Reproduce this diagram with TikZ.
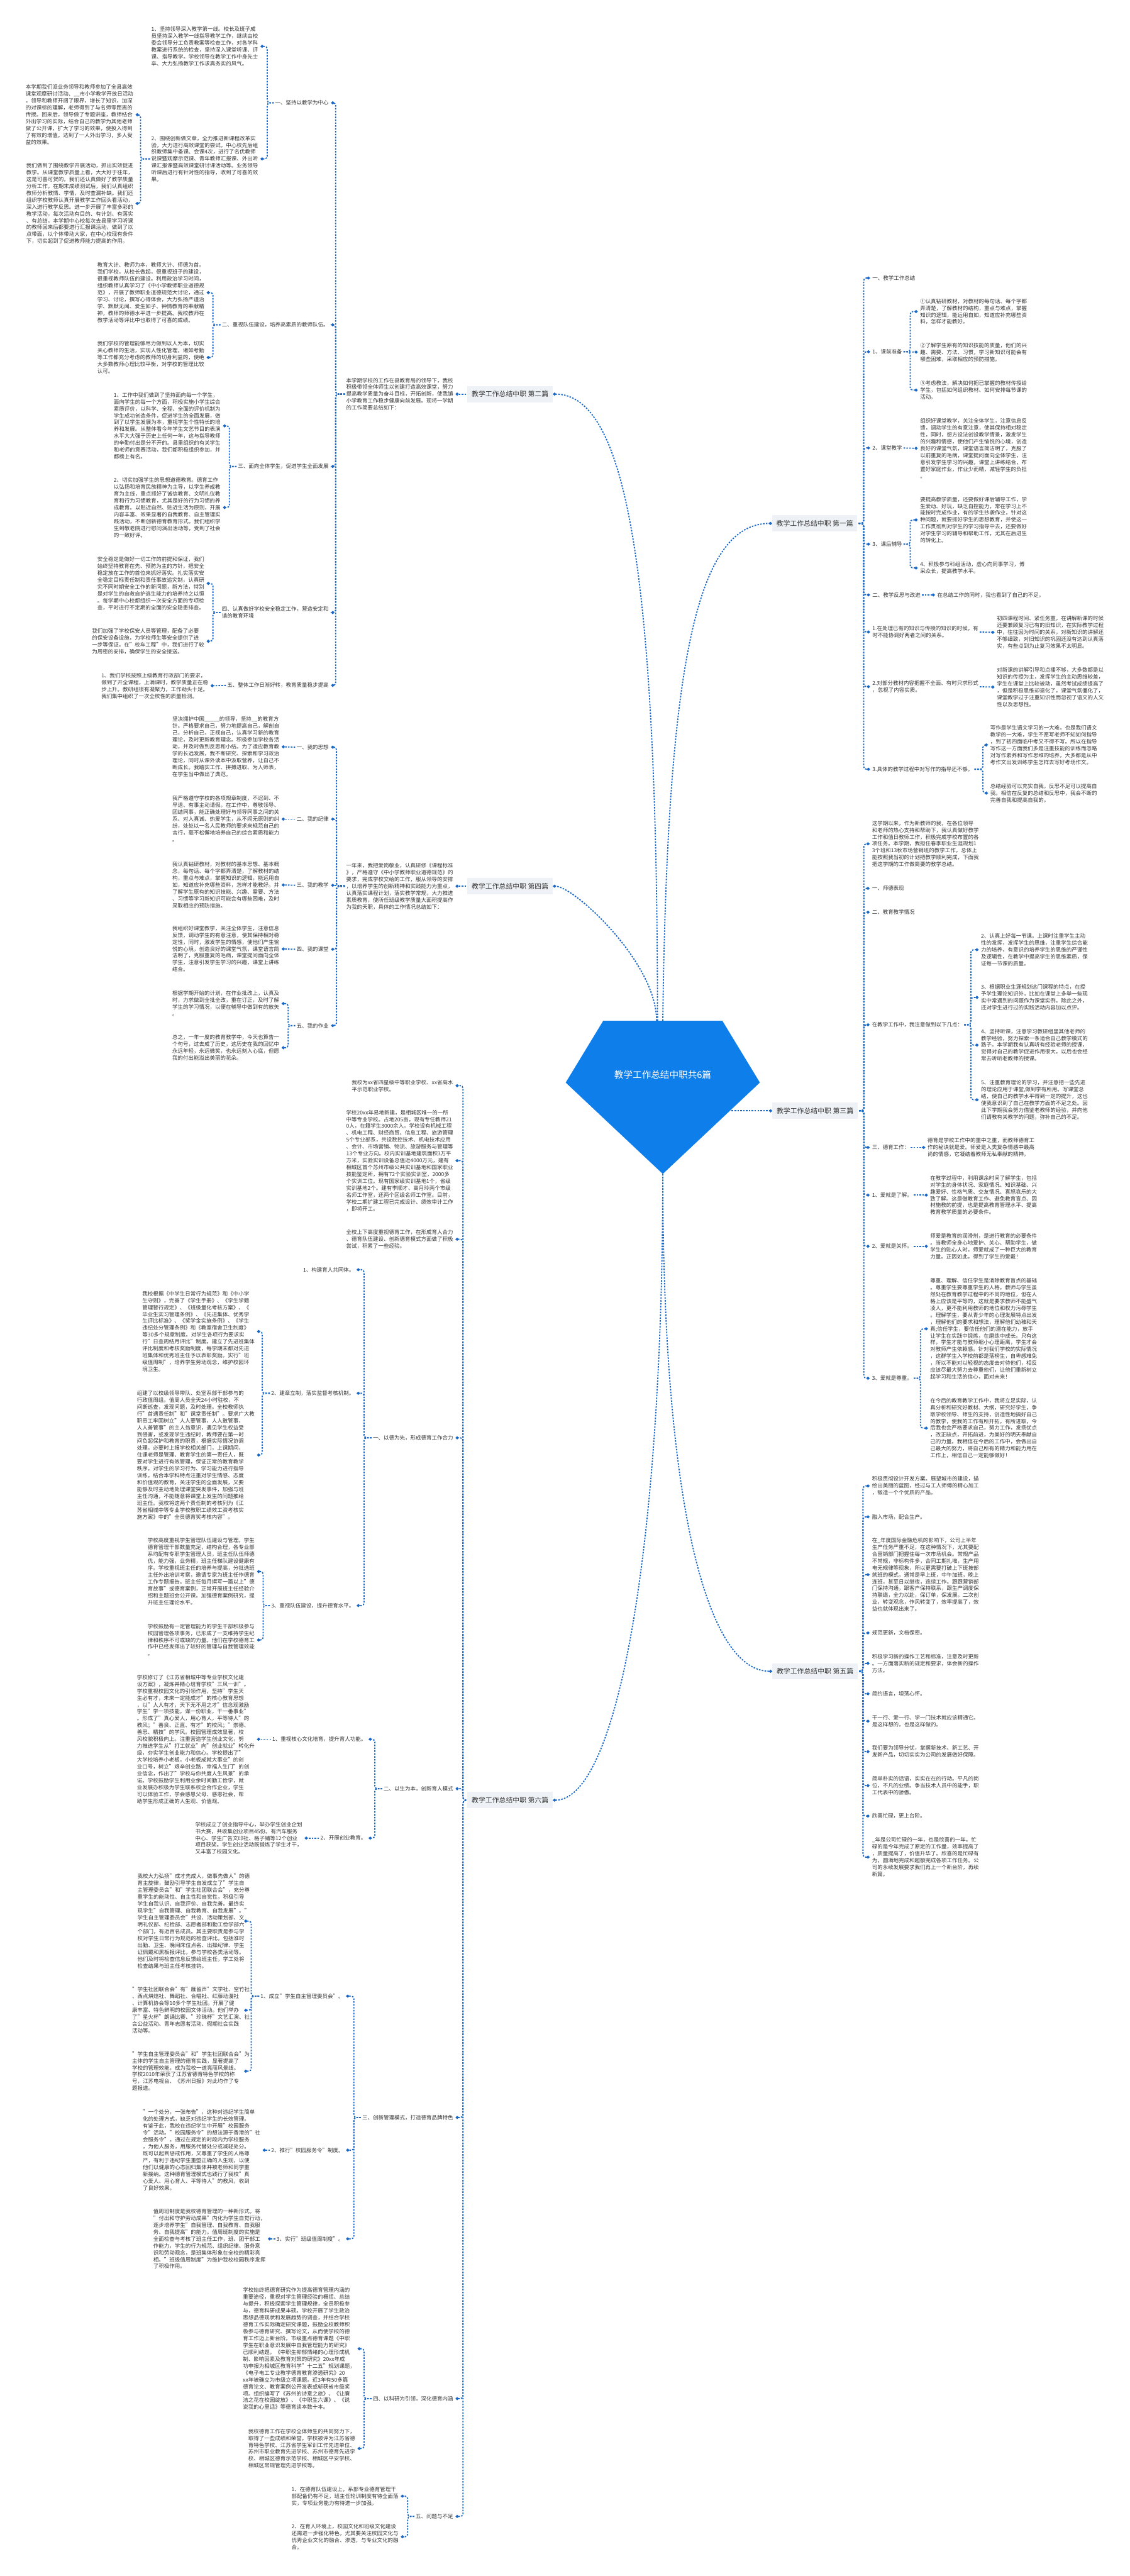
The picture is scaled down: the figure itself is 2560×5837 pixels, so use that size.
\documentclass[tikz,border=0pt]{standalone}
\usepackage{fontspec}
\setmainfont{Noto Sans CJK SC}
\usetikzlibrary{arrows.meta}
\definecolor{mapblue}{HTML}{0E7EEA}
\definecolor{linkblue}{HTML}{1968C8}
\definecolor{topicgray}{HTML}{EEF1F5}
\definecolor{textgray}{HTML}{333333}

\begin{document}
\begin{tikzpicture}[
  x=1pt,
  y=-1pt,
  every node/.style={text=textgray},
  topic/.style={fill=topicgray, inner sep=0pt, minimum width=193pt,
                minimum height=37pt, font=\fontsize{15.5}{18}\selectfont},
  txt/.style={inner sep=0pt, align=left, font=\fontsize{12.1}{15.6}\selectfont},
  rootnode/.style={text=white, inner sep=0pt, font=\fontsize{20.8}{24}\selectfont},
  rootlink/.style={linkblue, line width=2.6pt, dash pattern=on 3.5pt off 3pt,
                   -{Diamond[length=8pt,width=7.5pt]}},
  link/.style={rootlink, rounded corners=6pt, shorten <=3pt, shorten >=5pt}
]
  % ---- page ----
  \useasboundingbox (0,0) rectangle (2560,5837);
  \fill[white] (0,0) rectangle (2560,5837);

  % ---- centre gem ----
  \fill[mapblue] (1367,2313) -- (1637,2313) -- (1722,2453) -- (1502,2660)
    -- (1282,2453) -- cycle;
  \node[rootnode] (root) at (1502,2435) {教学工作总结中职共6篇};
  \coordinate (rootN2) at (1490,2313);
  \coordinate (rootN1) at (1502,2313);
  \coordinate (rootN4) at (1488,2313);
  \coordinate (rootE3) at (1658,2517);
  \coordinate (rootS) at (1502,2660);

  % ---- topics ----
  \node[topic] (p2) at (1156,893)    {教学工作总结中职 第二篇};
  \node[topic] (p1) at (1846.5,1186) {教学工作总结中职 第一篇};
  \node[topic] (p4) at (1156,2008)   {教学工作总结中职 第四篇};
  \node[topic] (p3) at (1847,2517)   {教学工作总结中职 第三篇};
  \node[topic] (p5) at (1847,3787)   {教学工作总结中职 第五篇};
  \node[topic] (p6) at (1156,4079)   {教学工作总结中职 第六篇};

  % ---- 第二篇 ----
  \node[txt, anchor=east] (p2s) at (1027,893) {本学期学校的工作在县教育局的领导下，我校\\
积极带领全体师生以创建打造高效课堂，努力\\
提高教学质量为奋斗目标，开拓创新，使我镇\\
小学教育工作稳步健康向前发展。现将一学期\\
的工作简要总结如下：};
  \node[txt, anchor=east] (p2a) at (745,233)  {一、坚持以教学为中心};
  \node[txt, anchor=east] (p2b) at (745,736)  {二、重视队伍建设，培养高素质的教师队伍。};
  \node[txt, anchor=east] (p2c) at (745,1057) {三、面向全体学生，促进学生全面发展};
  \node[txt, anchor=east] (p2d) at (745,1388) {四、认真做好学校安全稳定工作，营造安定和\\
谐的教育环境};
  \node[txt, anchor=east] (p2e) at (745,1553) {五、整体工作日渐好转，教育质量稳步提高};
  \node[txt, anchor=east] (p2a1) at (585,105) {1、坚持领导深入教学第一线。校长及班子成\\
员坚持深入教学一线指导教学工作，继续由校\\
委会领导分工负责教案等检查工作，对各学科\\
教案进行系统的检查，坚持深入课堂听课、评\\
课、指导教学。学校领导在教学工作中身先士\\
卒、大力弘扬教学工作求真务实的风气。};
  \node[txt, anchor=east] (p2a2) at (585,360) {2、围绕创新做文章，全力推进新课程改革实\\
验，大力进行高效课堂的尝试。中心校先后组\\
织教师集中备课、会课4次，进行了名优教师\\
说课暨观摩示范课、青年教师汇报课、外出听\\
课汇报课暨高效课堂研讨课活动等。业务领导\\
听课后进行有针对性的指导，收到了可喜的效\\
果。};
  \node[txt, anchor=east] (p2a2x) at (302,260) {本学期我们派业务领导和教师参加了全县高效\\
课堂观摩研讨活动、\_\_市小学教学开放日活动\\
，领导和教师开阔了眼界，增长了知识，加深\\
的对课标的理解，老师得到了与名师零距离的\\
传授。回来后，领导做了专题讲座，教师结合\\
外出学习的实际，结合自己的教学为其他老师\\
做了公开课，扩大了学习的效果，使投入得到\\
了有效的增值。达到了一人外出学习，多人受\\
益的效果。};
  \node[txt, anchor=east] (p2a2y) at (302,461) {我们做到了围绕教学开展活动，抓出实效促进\\
教学。从课堂教学质量上看，大大好于往年，\\
这是可喜可贺的。我们还认真做好了教学质量\\
分析工作，在期末成绩测试后，我们认真组织\\
教师分析教情、学情，及时查漏补缺。我们还\\
组织学校教师认真开展教学工作回头看活动，\\
深入进行教学反思。进一步开展了丰富多彩的\\
教学活动，每次活动有目的、有计划、有落实\\
、有总结，本学期中心校每次去县里学习听课\\
的教师回来后都要进行汇报课活动，做到了以\\
点带面，以个体带动大家，在中心校现有条件\\
下，切实起到了促进教师能力提高的作用。};
  \node[txt, anchor=east] (p2b1) at (463,663) {教育大计、教师为本，教师大计、师德为首。\\
我们学校，从校长做起，很重视班子的建设，\\
很重视教师队伍的建设。利用政治学习时间，\\
组织教师认真学习了《中小学教师职业道德规\\
范》，开展了教师职业道德规范大讨论，通过\\
学习、讨论，撰写心得体会，大力弘扬严谨治\\
学、默默无闻、爱生如子、钟情教育的奉献精\\
神，教师的师德水平进一步提高。我校教师在\\
教学活动等评比中也取得了可喜的成绩。};
  \node[txt, anchor=east] (p2b2) at (463,810) {我们学校的管理能够尽力做到以人为本，切实\\
关心教师的生活，实现人性化管理，诸如考勤\\
等工作都充分考虑的教师的切身利益的，使绝\\
大多数教师心理比较平衡，对学校的管理比较\\
认可。};
  \node[txt, anchor=east] (p2c1) at (500,965) {1、工作中我们做到了坚持面向每一个学生，\\
面向学生的每一个方面，积极实施小学生综合\\
素质评价，以科学、全程、全面的评价机制为\\
学生成功创造条件，促进学生的全面发展，做\\
到了以学生发展为本，重视学生个性特长的培\\
养和发展。从整体看今年学生文艺节目的表演\\
水平大大强于历史上任何一年，这与指导教师\\
的辛勤付出是分不开的。县里组织的有关学生\\
和老师的竞赛活动，我们都积极组织参加，并\\
都榜上有名。};
  \node[txt, anchor=east] (p2c2) at (500,1150) {2、切实加强学生的思想道德教育。德育工作\\
以弘扬和培育民族精神为主导，以学生养成教\\
育为主线，重点抓好了诚信教育、文明礼仪教\\
育和行为习惯教育，尤其是好的行为习惯的养\\
成教育。以贴近自然、贴近生活为原则，开展\\
内容丰富、效果显著的自我教育、自主管理实\\
践活动，不断创新德育教育形式。我们组织学\\
生到敬老院进行慰问演出活动等，受到了社会\\
的一致好评。};
  \node[txt, anchor=east] (p2d1) at (463,1322) {安全稳定是做好一切工作的前提和保证，我们\\
始终坚持教育在先、预防为主的方针，把安全\\
稳定放在工作的首位来抓好落实。扎实落实安\\
全稳定目标责任制和责任事故追究制，认真研\\
究不同时期安全工作的新问题，新方法，特别\\
是对学生的自救自护逃生能力的培养持之以恒\\
。每学期中心校都组织一次安全方面的专项检\\
查，平时进行不定期的全面的安全隐患排查。};
  \node[txt, anchor=east] (p2d2) at (463,1453) {我们加强了学校保安人员等管理，配备了必要\\
的保安设备设施，为学校师生等安全提供了进\\
一步等保证。在"校车工程"中，我们进行了较\\
为周密的安排，确保学生的安全接送。};
  \node[txt, anchor=east] (p2e1) at (472,1554) {1、我们学校按照上级教育行政部门的要求，\\
做到了开全课程，上满课时，教学质量正在稳\\
步上升。教研组很有凝聚力，工作劲头十足。\\
我们集中组织了一次全校性的质量检测。};

  % ---- 第四篇 ----
  \node[txt, anchor=east] (p4s) at (1027,2008) {一年来，我把爱岗敬业，认真研修《课程标准\\
》，严格遵守《中小学教师职业道德规范》的\\
要求，完成学校交给的工作，服从领导的安排\\
，以培养学生的创新精神和实践能力为重点，\\
认真落实课程计划，落实教学常规，大力推进\\
素质教育，使所任班级教学质量大面积提高作\\
为我的天职，具体的工作情况总结如下：};
  \node[txt, anchor=east] (p4a) at (745,1693) {一、我的思想};
  \node[txt, anchor=east] (p4b) at (745,1856) {二、我的纪律};
  \node[txt, anchor=east] (p4c) at (745,2006) {三、我的教学};
  \node[txt, anchor=east] (p4d) at (745,2151) {四、我的课堂};
  \node[txt, anchor=east] (p4e) at (745,2324) {五、我的作业};
  \node[txt, anchor=east] (p4a1) at (633,1692) {坚决拥护中国\_\_\_\_\_的领导，坚持\_\_的教育方\\
针。严格要求自己，努力地提高自己，解剖自\\
己，分析自己，正视自己，认真学习新的教育\\
理论，及时更新教育理念。积极参加学校各活\\
动，并及时做到反思和小结。为了适应教育教\\
学的长远发展，我不断研究、探索和学习政治\\
理论，同时从课外读本中汲取营养，让自己不\\
断成长。我踏实工作、拼搏进取、为人师表，\\
在学生当中做出了典范。};
  \node[txt, anchor=east] (p4b1) at (633,1856) {我严格遵守学校的各项规章制度，不迟到、不\\
早退、有事主动请假。在工作中，尊敬领导、\\
团结同事，能正确处理好与领导同事之间的关\\
系、对人真诚、热爱学生，从不闹无原则的纠\\
纷，处处以一名人民教师的要求来规范自己的\\
言行，毫不松懈地培养自己的综合素质和能力\\
。};
  \node[txt, anchor=east] (p4c1) at (633,2005) {我认真钻研教材，对教材的基本思想、基本概\\
念，每句话、每个字都弄清楚，了解教材的结\\
构，重点与难点，掌握知识的逻辑，能运用自\\
如，知道应补充哪些资料，怎样才能教好。并\\
了解学生原有的知识技能、兴趣、需要、方法\\
、习惯等学习新知识可能会有哪些困难，及时\\
采取相应的预防措施。};
  \node[txt, anchor=east] (p4d1) at (633,2150) {我组织好课堂教学，关注全体学生，注意信息\\
反馈，调动学生的有意注意，使其保持相对稳\\
定性，同时，激发学生的情感，使他们产生愉\\
悦的心境，创造良好的课堂气氛，课堂语言简\\
洁明了，克服重复的毛病，课堂提问面向全体\\
学生，注意引发学生学习的兴趣，课堂上讲练\\
结合。};
  \node[txt, anchor=east] (p4e1) at (633,2274) {根据学期开始的计划，在作业批改上，认真及\\
时，力求做到全批全改，重在订正，及时了解\\
学生的学习情况，以便在辅导中做到有的放矢\\
。};
  \node[txt, anchor=east] (p4e2) at (633,2374) {总之，一年一度的教育教学中，今天也算告一\\
个句号，过去成了历史，这历史在我的回忆中\\
永远年轻，永远微笑，也永远刻入心底，但愿\\
我的付出能溢出美丽的花朵。};

  % ---- 第一篇 ----
  \node[txt, anchor=west] (p1a) at (1977,630)  {一、教学工作总结};
  \node[txt, anchor=west] (p1b) at (1977,797)  {1、课前准备};
  \node[txt, anchor=west] (p1c) at (1977,1015) {2、课堂教学};
  \node[txt, anchor=west] (p1d) at (1977,1233) {3、课后辅导};
  \node[txt, anchor=west] (p1e) at (1977,1348) {二、教学反思与改进};
  \node[txt, anchor=west] (p1f) at (1977,1432) {1.在处理已有的知识与传授的知识的时候，有\\
时不能协调好两者之间的关系。};
  \node[txt, anchor=west] (p1g) at (1977,1556) {2.对部分教材内容把握不全面、有时只求形式\\
，忽视了内容实质。};
  \node[txt, anchor=west] (p1h) at (1977,1743) {3.具体的教学过程中对写作的指导还不够。};
  \node[txt, anchor=west] (p1b1) at (2085,706) {①认真钻研教材，对教材的每句话、每个字都\\
弄清楚，了解教材的结构，重点与难点，掌握\\
知识的逻辑，能运用自如，知道应补充哪些资\\
料，怎样才能教好。};
  \node[txt, anchor=west] (p1b2) at (2085,798) {②了解学生原有的知识技能的质量，他们的兴\\
趣、需要、方法、习惯，学习新知识可能会有\\
哪些困难，采取相应的预防措施。};
  \node[txt, anchor=west] (p1b3) at (2085,884) {③考虑教法，解决如何把已掌握的教材传授给\\
学生，包括如何组织教材、如何安排每节课的\\
活动。};
  \node[txt, anchor=west] (p1c1) at (2085,1016) {组织好课堂教学，关注全体学生，注意信息反\\
馈，调动学生的有意注意，使其保持相对稳定\\
性，同时，想方设法创设教学情景，激发学生\\
的兴趣和情感，使他们产生愉悦的心境，创造\\
良好的课堂气氛，课堂语言简洁明了，克服了\\
以前重复的毛病，课堂提问面向全体学生，注\\
意引发学生学习的兴趣，课堂上讲练结合，布\\
置好家庭作业，作业少而精，减轻学生的负担\\
。};
  \node[txt, anchor=west] (p1d1) at (2085,1178) {要提高教学质量，还要做好课后辅导工作，学\\
生爱动、好玩，缺乏自控能力，常在学习上不\\
能按时完成作业，有的学生抄袭作业，针对这\\
种问题，就要抓好学生的思想教育，并使这一\\
工作贯彻到对学生的学习指导中去，还要做好\\
对学生学习的辅导和帮助工作，尤其在后进生\\
的转化上。};
  \node[txt, anchor=west] (p1d2) at (2085,1287) {4、积极参与科组活动，虚心向同事学习，博\\
采众长，提高教学水平。};
  \node[txt, anchor=west] (p1e1) at (2124,1348) {在总结工作的同时，我也看到了自己的不足。};
  \node[txt, anchor=west] (p1f1) at (2259,1433) {初四课程时间、紧任务重，在讲解新课的时候\\
还要兼顾复习已有的旧知识，在实际教学过程\\
中，往往因为时间的关系，对新知识的讲解还\\
不够细致，对旧知识的巩固还没有达到认真落\\
实，有些点到为止复习效果不太明显。};
  \node[txt, anchor=west] (p1g1) at (2259,1557) {对新课的讲解引导和点播不够，大多数都是以\\
知识的传授为主，发挥学生的主动思维较差，\\
学生在课堂上比较被动，虽然考试成绩提高了\\
，但是积极思维却退化了，课堂气氛僵化了，\\
课堂教学过于注重知识性而忽视了语文的人文\\
性以及思想性。};
  \node[txt, anchor=west] (p1h1) at (2244,1688) {写作是学生语文学习的一大难，也是我们语文\\
教学的一大难，学生不愿写老师不知如何指导\\
，到了初四面临中考又不得不写。所以在指导\\
写作这一方面我们多是注重技能的训练而忽略\\
对写作素养和写作思维的培养，大多都是从中\\
考作文出发训练学生怎样去写好考场作文。};
  \node[txt, anchor=west] (p1h2) at (2244,1797) {总结经验可以充实自我，反思不足可以提高自\\
我。相信在反复的总结和反思中，我会不断的\\
完善自我和提高自我的。};

  % ---- 第三篇 ----
  \node[txt, anchor=west] (p3a) at (1976,1912) {这学期以来，作为新教师的我，在各位领导\\
和老师的热心支持和帮助下，我认真做好教学\\
工作和值日教师工作，积极完成学校布置的各\\
项任务。本学期，我担任春季职业生涯规划1\\
3个班和13秋市场营销班的教学工作，总体上\\
能按照我当初的计划把教学顺利完成，下面我\\
把这学期的工作做简要的教学总结。};
  \node[txt, anchor=west] (p3b) at (1976,2013) {一、师德表现};
  \node[txt, anchor=west] (p3c) at (1976,2067) {二、教育教学情况};
  \node[txt, anchor=west] (p3d) at (1976,2322) {在教学工作中，我注意做到以下几点：};
  \node[txt, anchor=west] (p3e) at (1976,2600) {三、德育工作：};
  \node[txt, anchor=west] (p3f) at (1976,2708) {1、爱就是了解。};
  \node[txt, anchor=west] (p3g) at (1976,2824) {2、爱就是关怀。};
  \node[txt, anchor=west] (p3h) at (1976,3123) {3、爱就是尊重。};
  \node[txt, anchor=west] (p3d1) at (2223,2152) {2、认真上好每一节课。上课时注重学生主动\\
性的发挥，发挥学生的思维，注重学生综合能\\
力的培养，有意识的培养学生的思维的严谨性\\
及逻辑性，在教学中提高学生的思维素质，保\\
证每一节课的质量。};
  \node[txt, anchor=west] (p3d2) at (2223,2260) {3、根据职业生涯规划这门课程的特点，在授\\
予学生理论知识外，比如在课堂上多举一些现\\
实中常遇到的问题作为课堂实例。除此之外，\\
还对学生进行过的实践活动内容加以点评。};
  \node[txt, anchor=west] (p3d3) at (2223,2368) {4、坚持听课，注意学习教研组里其他老师的\\
教学经验，努力探索一条适合自己教学模式的\\
路子。本学期我有认真听有经验老师的授课，\\
觉得对自己的教学促进作用很大，以后也会经\\
常去听听老教师的授课。};
  \node[txt, anchor=west] (p3d4) at (2223,2492) {5、注重教育理论的学习，并注意把一些先进\\
的理论应用于课堂,做到学有所用。写课堂总\\
结，使自己的教学水平得到一定的提升，这也\\
使我意识到了自己在教学方面的不足之处。因\\
此下学期我会努力借鉴老教师的经验，并向他\\
们请教有关教学的问题，弥补自己的不足。};
  \node[txt, anchor=west] (p3e1) at (2102,2600) {德育是学校工作中的重中之重，而教师德育工\\
作的秘诀就是爱。师爱是人类复杂情感中最高\\
尚的情感，它凝结着教师无私奉献的精神。};
  \node[txt, anchor=west] (p3f1) at (2108,2708) {在教学过程中，利用课余时间了解学生，包括\\
对学生的身体状况、家庭情况、知识基础、兴\\
趣爱好、性格气质、交友情况、喜怒哀乐的大\\
致了解。这是做教育工作、避免教育盲点、因\\
材施教的前提，也是提高教育管理水平、提高\\
教育教学质量的必要条件。};
  \node[txt, anchor=west] (p3g1) at (2108,2824) {师爱是教育的润滑剂，是进行教育的必要条件\\
。当教师全身心地爱护、关心、帮助学生，做\\
学生的贴心人时，师爱就成了一种巨大的教育\\
力量。正因如此，得到了学生的爱戴！};
  \node[txt, anchor=west] (p3h1) at (2108,3011) {尊重、理解、信任学生是消除教育盲点的基础\\
。尊重学生要尊重学生的人格。教师与学生虽\\
然处在教育教学过程中的不同的地位，但在人\\
格上应该是平等的，这就是要求教师不能盛气\\
凌人，更不能利用教师的地位和权力污辱学生\\
。理解学生，要从青少年的心理发展特点出发\\
，理解他们的要求和想法，理解他们幼稚和天\\
真;信任学生，要信任他们的潜在能力，放手\\
让学生在实践中锻炼，在磨练中成长。只有这\\
样，学生才能与教师缩小心理距离，学生才会\\
对教师产生依赖感。针对我们学校的实际情况\\
，这群学生入学校前都是落榜生，自卑感难免\\
，所以不能对以轻视的态度去对待他们，相反\\
应该尽最大努力去尊重他们，让他们重新树立\\
起学习和生活的信心，面对未来！};
  \node[txt, anchor=west] (p3h2) at (2108,3236) {在今后的教育教学工作中，我将立足实际，认\\
真分析和研究好教材、大纲，研究好学生，争\\
取学校领导、师生的支持，创造性地搞好自己\\
的教学，使我的工作有所开拓，有所进取，今\\
后我也会严格要求自己，努力工作，发扬优点\\
，改正缺点，开拓前进，为美好的明天奉献自\\
己的力量。我相信在今后的工作中，会做出自\\
己最大的努力，将自己所有的精力和能力用在\\
工作上，相信自己一定能够做好！};

  % ---- 第五篇 ----
  \node[txt, anchor=west] (p5a) at (1976,3367) {积极贯彻设计开发方案。展望城市的建设，描\\
绘出美丽的蓝图，经过与工人师傅的精心加工\\
，锻造一个个优质的产品。};
  \node[txt, anchor=west] (p5b) at (1976,3437) {融入市场，配合生产。};
  \node[txt, anchor=west] (p5c) at (1976,3568) {在\_年度国际金融危机的影响下，公司上半年\\
生产任务严重不足，在这种情况下，尤其要配\\
合营销部门把握住每一次市场机会。常规产品\\
不常规，非标构件多，合同工期扎堆，生产用\\
电无规律等现象，所以更需要打破上下班按部\\
就班的模式，通常是早上班，中午加班，晚上\\
连班，甚至日以继夜，连续工作。跟跟营销部\\
门保持沟通，跟客户保持联系，跟生产调度保\\
持联络，全力以赴，保订单，保发展。二次创\\
业，转变观念，作风转变了，效率提高了，效\\
益也就体现出来了。};
  \node[txt, anchor=west] (p5d) at (1976,3700) {规范更新，文档保密。};
  \node[txt, anchor=west] (p5e) at (1976,3769) {积极学习新的操作工艺和标准，注意及时更新\\
。一方面落实新的规定和要求，体会新的操作\\
方法。};
  \node[txt, anchor=west] (p5f) at (1976,3838) {简约语言，坦荡心怀。};
  \node[txt, anchor=west] (p5g) at (1976,3900) {干一行、爱一行、学一门技术就应该精通它。\\
是这样想的，也是这样做的。};
  \node[txt, anchor=west] (p5h) at (1976,3969) {我们要为领导分忧，掌握新技术、新工艺、开\\
发新产品，切切实实为公司的发展做好保障。};
  \node[txt, anchor=west] (p5i) at (1976,4046) {简单朴实的话语，实实在在的行动。平凡的岗\\
位，不凡的业绩。争当技术人员中的能手，职\\
工代表中的骄傲。};
  \node[txt, anchor=west] (p5j) at (1976,4115) {欣喜忙碌，更上台阶。};
  \node[txt, anchor=west] (p5k) at (1976,4208) {\_年是公司忙碌的一年，也是欣喜的一年。忙\\
碌的是今年完成了原定的工作量，效率提高了\\
，质量提高了，价值升华了。欣喜的是忙碌有\\
为，圆满地完成和超额完成各项工作任务。公\\
司的永续发展要求我们再上一个新台阶，再续\\
新篇。};

  % ---- 第六篇 ----
  \node[txt, anchor=east] (p6a) at (1027,2460) {我校为xx省四星级中等职业学校、xx省高水\\
平示范职业学校。};
  \node[txt, anchor=east] (p6b) at (1027,2630) {学校20xx年易地新建，是相城区唯一的一所\\
中等专业学校。占地205亩，现有专任教师21\\
0人，在籍学生3000余人。学校设有机械工程\\
、机电工程、财经商贸、信息工程、旅游管理\\
5个专业部系，共设数控技术、机电技术应用\\
、会计、市场营销、物流、旅游服务与管理等\\
13个专业方向。校内实训基地建筑面积3万平\\
方米，实验实训设备总值近4000万元，建有\\
相城区首个苏州市级公共实训基地和国家职业\\
技能鉴定所，拥有72个实验实训室，2000多\\
个实训工位。现有国家级实训基地1个，省级\\
实训基地2个。建有李顺才、高月玲两个市级\\
名师工作室，还两个区级名师工作室。目前，\\
学校二期扩建工程已完成设计、绩效审计工作\\
，即将开工。};
  \node[txt, anchor=east] (p6c) at (1027,2808) {全校上下高度重视德育工作，在形成育人合力\\
、德育队伍建设、创新德育模式方面做了积极\\
尝试，积累了一些经验。};
  \node[txt, anchor=east] (p6d) at (1027,3258) {一、以德为先，形成德育工作合力};
  \node[txt, anchor=east] (p6e) at (1027,4053) {二、以生为本，创新育人模式};
  \node[txt, anchor=east] (p6f) at (1027,4798) {三、创新管理模式，打造德育品牌特色};
  \node[txt, anchor=east] (p6g) at (1027,5435) {四、以科研为引领，深化德育内涵};
  \node[txt, anchor=east] (p6h) at (1027,5702) {五、问题与不足};
  \node[txt, anchor=east] (p6d1) at (803,2877) {1、构建育人共同体。};
  \node[txt, anchor=east] (p6d2) at (803,3157) {2、建章立制，落实监督考核机制。};
  \node[txt, anchor=east] (p6d3) at (803,3638) {3、重视队伍建设，提升德育水平。};
  \node[txt, anchor=east] (p6d2x) at (577,3017) {我校根据《中学生日常行为规范》和《中小学\\
生守则》，完善了《学生手册》、《学生学籍\\
管理暂行规定》、《班级量化考核方案》、《\\
毕业生实习管理条例》、《先进集体、优秀学\\
生评比标准》、《奖学金实施条例》、《学生\\
违纪处分管理条例》和《教室宿舍卫生制度》\\
等30多个规章制度。对学生各项行为要求实\\
行"日查周结月评比"制度。建立了先进班集体\\
评比制度和考核奖励制度，每学期末都对先进\\
班集体和优秀班主任予以表彰奖励。实行"班\\
级值周制"，培养学生劳动观念，维护校园环\\
境卫生。};
  \node[txt, anchor=east] (p6d2y) at (577,3297) {组建了以校级领导带队、处室系部干部参与的\\
行政值周组。值周人员全天24小时驻校，不\\
间断巡查，发现问题，及时处理。全校教师执\\
行"首遇责任制"和"课堂责任制"。要求广大教\\
职员工牢固树立"人人要管事，人人敢管事，\\
人人善管事"的主人翁意识，遇见学生权益受\\
到侵害，或发现学生违纪时，教师要在第一时\\
间负起保护和教育的职责，根据实际情况协调\\
处理，必要时上报学校相关部门，上课期间，\\
住课老师是管理、教育学生的第一责任人，既\\
要对学生进行有效管理，保证正常的教育教学\\
秩序，对学生的学习行为、学习能力进行指导\\
训练，结合本学科特点注重对学生情感、态度\\
和价值观的教育，关注学生的全面发展，又要\\
能够及时主动地处理课堂突发事件，加强与班\\
主任沟通，不能随意将课堂上发生的问题推给\\
班主任。我校将这两个责任制的考核列为《江\\
苏省相城中等专业学校教职工绩效工资考核实\\
施方案》中的"全员德育奖考核内容"。};
  \node[txt, anchor=east] (p6d3x) at (577,3561) {学校高度重视学生管理队伍建设与管理。学生\\
德育管理干部数量充足，结构合理，各专业部\\
系均配有专职学生管理人员，班主任队伍师德\\
优，能力强，业务精，班主任梯队建设健康有\\
序。学校重视班主任的培养与提高，分批选班\\
主任外出培训考察，邀请专家为班主任作德育\\
工作专题报告。班主任每月撰写一篇以上"德\\
育故事"或德育案例，正常开展班主任经验介\\
绍和主题班会公开课。加强德育案例研究，提\\
升班主任理论水平。};
  \node[txt, anchor=east] (p6d3y) at (577,3716) {学校鼓励有一定管理能力的学生干部积极参与\\
校园管理各项事务，已形成了一支维持学生纪\\
律和秩序不可或缺的力量。他们在学校德育工\\
作中已经发挥出了较好的管理与自我管理效能\\
。};
  \node[txt, anchor=east] (p6e1) at (830,3941) {1、重视核心文化培育，提升育人功能。};
  \node[txt, anchor=east] (p6e2) at (830,4165) {2、开展创业教育。};
  \node[txt, anchor=east] (p6e1x) at (577,3941) {学校修订了《江苏省相城中等专业学校文化建\\
设方案》，凝炼并精心培育学校"三风一训"。\\
学校重视校园文化的引领作用，坚持"学生天\\
生必有才，未来一定能成才"的核心教育思想\\
，以"人人有才，天下无不用之才"信念观激励\\
学生"学一项技能，谋一份职业，干一番事业"\\
。形成了"真心爱人，用心育人，平等待人"的\\
教风；"善良、正直、有才"的校风；"崇德、\\
善思、精技"的学风。校园管理成效显著，校\\
风校貌积极向上。注重营造学生创业文化，努\\
力推进学生从"打工就业"向"创业就业"转化升\\
级，夯实学生创业能力和信心。学校提出了"\\
大学校培养小老板，小老板成就大事业"的创\\
业口号，树立"艰辛创业路，幸福人生门"的创\\
业信念，作出了"学校与你共度人生风景"的承\\
诺。学校鼓励学生利用业余时间勤工俭学，就\\
业发展办积极为学生联系校企合作企业，学生\\
可以体验工作，学会感恩父母、感恩社会，帮\\
助学生形成正确的人生观、价值观。};
  \node[txt, anchor=east] (p6e2x) at (685,4165) {学校成立了创业指导中心，举办学生创业企划\\
书大赛，共收集创业项目45份。有汽车服务\\
中心、学生广告文印社、格子铺等12个创业\\
项目获奖。学生创业活动既锻炼了学生才干，\\
又丰富了校园文化。};
  \node[txt, anchor=east] (p6f1) at (779,4523) {1、成立"学生自主管理委员会"。};
  \node[txt, anchor=east] (p6f2) at (779,4872) {2、推行"校园服务令"制度。};
  \node[txt, anchor=east] (p6f3) at (779,5073) {3、实行"班级值周制度"。};
  \node[txt, anchor=east] (p6f1x) at (566,4353) {我校大力弘扬"成才先成人，做事先做人"的德\\
育主旋律，鼓励引导学生自发成立了"学生自\\
主管理委员会"和"学生社团联合会"，充分尊\\
重学生的能动性、自主性和自觉性，积极引导\\
学生自我认识、自我评价、自我完善。最终实\\
现学生"自我管理、自我教育、自我发展"。"\\
学生自主管理委员会"共设、活动策划部、文\\
明礼仪部、纪检部、志愿者部和勤工俭学部六\\
个部门，有近百名成员。其主要职责是参与学\\
校对学生日常行为规范的检查评比。包括准时\\
出勤、卫生、晚间床位点名、出操纪律、学生\\
证佩戴和黑板报评比，参与学校各类活动等。\\
他们及时将检查信息反馈给班主任，学工处将\\
检查结果与班主任考核挂钩。};
  \node[txt, anchor=east] (p6f1y) at (566,4555) {"学生社团联合会"有"雁留声"文学社、空竹社\\
、西点烘焙社、舞蹈社、合唱社、红藤动漫社\\
、计算机协会等10多个学生社团。开展了健\\
康丰富、特色鲜明的校园文体活动。他们举办\\
了"星火杯"朗诵比赛、"珍珠杯"文艺汇演、社\\
会公益活动、青年志愿者活动、假期社会实践\\
活动等。};
  \node[txt, anchor=east] (p6f1z) at (566,4693) {"学生自主管理委员会"和"学生社团联合会"为\\
主体的学生自主管理的德育实践，显著提高了\\
学校的管理效能，成为我校一道亮丽风景线。\\
学校2010年荣获了江苏省德育特色学校的称\\
号，江苏电视台、《苏州日报》对此均作了专\\
题报道。};
  \node[txt, anchor=east] (p6f2x) at (590,4872) {"一个处分，一张布告"，这种对违纪学生简单\\
化的处理方式，缺乏对违纪学生的长效管理。\\
有鉴于此，我校在违纪学生中开展"校园服务\\
令"活动。"校园服务令"的想法源于香港的"社\\
会服务令"。通过在规定的时段内为学校服务\\
，为他人服务，用服务代替处分或减轻处分。\\
既可以起到惩戒作用，又尊重了学生的人格尊\\
严，有利于违纪学生重塑正确的人生观，以便\\
他们以健康的心态回归集体并被老师和同学重\\
新接纳。这种德育管理模式也践行了我校"真\\
心爱人、用心育人、平等待人"的教风，收到\\
了良好效果。};
  \node[txt, anchor=east] (p6f3x) at (602,5073) {值周班制度是我校德育管理的一种新形式。将\\
"付出和守护劳动成果"内化为学生自觉行动，\\
逐步培养学生"自我管理、自我教育、自我服\\
务、自我提高"的能力。值周班制度的实施是\\
全面检查与考核了班主任工作，班、团干部工\\
作能力，学生的行为规范、组织纪律、服务意\\
识和劳动观念，是班集体形象在全校的精彩亮\\
相。"班级值周制度"为维护我校校园秩序发挥\\
了积极作用。};
  \node[txt, anchor=east] (p6g1) at (805,5322) {学校始终把德育研究作为提高德育管理内涵的\\
重要途径，重视对学生管理经验的概括、总结\\
与提升，积极探索学生管理规律，全员积极参\\
与，德育科研成果丰硕。学校开展了学生政治\\
思想品德现状和发展趋势的调查，并结合学校\\
德育工作实际确定研究课题，鼓励全校教师积\\
极参与德育研究、撰写论文，从而使学校的德\\
育工作迈上新台阶。市级重点德育课题《中职\\
学生在职业意识发展中自我管理能力的研究》\\
已顺利结题，《中职生抑郁情绪的心理形成机\\
制、影响因素及教育对策的研究》20xx年成\\
功申报为相城区教育科学"十二五"规划课题，\\
《电子电工专业教学德育教育渗透研究》20\\
xx年被确立为市级立项课题。近3年有50多篇\\
德育论文、教育案例公开发表或斩获省市级奖\\
项。组织编写了《苏州的诗意之旅》、《让廉\\
洁之花在校园绽放》、《中职生六课》、《说\\
说我的心里话》等德育读本数十本。};
  \node[txt, anchor=east] (p6g2) at (805,5548) {我校德育工作在学校全体师生的共同努力下，\\
取得了一些成绩和荣誉。学校被评为江苏省德\\
育特色学校、江苏省学生军训工作先进单位、\\
苏州市职业教育先进学校、苏州市德育先进学\\
校、相城区德育示范学校、相城区平安学校、\\
相城区常规管理先进学校等。};
  \node[txt, anchor=east] (p6h1) at (903,5656) {1、在德育队伍建设上，系部专业德育管理干\\
部配备仍有不足，班主任轮训制度有待全面落\\
实，专项业务能力有待进一步加强。};
  \node[txt, anchor=east] (p6h2) at (903,5748) {2、在育人环境上，校园文化和班级文化建设\\
还需进一步强化特色，尤其要关注校园文化与\\
优秀企业文化的融合、渗透，与专业文化的融\\
合。};

  % ---- links from the centre ----
  \draw[rootlink] (rootN2) .. controls (1490,1300) and (1420,893) .. (p2.east);
  \draw[rootlink] (rootN1) .. controls (1512,1500) and (1580,1186) .. (p1.west);
  \draw[rootlink] (rootN4) .. controls (1488,2180) and (1300,2008) .. (p4.east);
  \draw[rootlink] (rootE3) -- (p3.west);
  \draw[rootlink] (rootS) .. controls (1502,3400) and (1600,3787) .. (p5.west);
  \draw[rootlink] (rootS) .. controls (1502,3500) and (1400,4079) .. (p6.east);

  % ---- links 第二篇 ----
  \draw[link] (p2.west) -- (p2s.east);
  \foreach \c in {p2a,p2b,p2c,p2d,p2e}
    \draw[link] (p2s.west) -- ++(-24,0) |- (\c.east);
  \foreach \c in {p2a1,p2a2}
    \draw[link] (p2a.west) -- ++(-18,0) |- (\c.east);
  \foreach \c in {p2a2x,p2a2y}
    \draw[link] (p2a2.west) -- ++(-24,0) |- (\c.east);
  \foreach \c in {p2b1,p2b2}
    \draw[link] (p2b.west) -- ++(-20,0) |- (\c.east);
  \foreach \c in {p2c1,p2c2}
    \draw[link] (p2c.west) -- ++(-19,0) |- (\c.east);
  \foreach \c in {p2d1,p2d2}
    \draw[link] (p2d.west) -- ++(-20,0) |- (\c.east);
  \draw[link] (p2e.west) -- (p2e1.east);

  % ---- links 第四篇 ----
  \draw[link] (p4.west) -- (p4s.east);
  \foreach \c in {p4a,p4b,p4d,p4e}
    \draw[link] (p4s.west) -- ++(-22,0) |- (\c.east);
  \draw[link] (p4s.west |- p4c.east) -- (p4c.east);
  \draw[link] (p4a.west) -- (p4a1.east);
  \draw[link] (p4b.west) -- (p4b1.east);
  \draw[link] (p4c.west) -- (p4c1.east);
  \draw[link] (p4d.west) -- (p4d1.east);
  \foreach \c in {p4e1,p4e2}
    \draw[link] (p4e.west) -- ++(-19,0) |- (\c.east);

  % ---- links 第一篇 ----
  \foreach \c in {p1a,p1b,p1c,p1d,p1e,p1f,p1g,p1h}
    \draw[link] (p1.east) -- ++(14,0) |- (\c.west);
  \foreach \c in {p1b1,p1b3}
    \draw[link] (p1b.east) -- ++(18,0) |- (\c.west);
  \draw[link] (p1b.east) -- (p1b2.west);
  \draw[link] (p1c.east) -- (p1c1.west);
  \foreach \c in {p1d1,p1d2}
    \draw[link] (p1d.east) -- ++(18,0) |- (\c.west);
  \draw[link] (p1e.east) -- (p1e1.west);
  \draw[link] (p1f.east) -- (p1f1.west);
  \draw[link] (p1g.east) -- (p1g1.west);
  \foreach \c in {p1h1,p1h2}
    \draw[link] (p1h.east) -- ++(22,0) |- (\c.west);

  % ---- links 第三篇 ----
  \foreach \c in {p3a,p3b,p3c,p3d,p3e,p3f,p3g,p3h}
    \draw[link] (p3.east) -- ++(14,0) |- (\c.west);
  \foreach \c in {p3d1,p3d2,p3d3,p3d4}
    \draw[link] (p3d.east) -- ++(18,0) |- (\c.west);
  \draw[link] (p3e.east) -- (p3e1.west);
  \draw[link] (p3f.east) -- (p3f1.west);
  \draw[link] (p3g.east) -- (p3g1.west);
  \foreach \c in {p3h1,p3h2}
    \draw[link] (p3h.east) -- ++(18,0) |- (\c.west);

  % ---- links 第五篇 ----
  \foreach \c in {p5a,p5b,p5c,p5d,p5e,p5f,p5g,p5h,p5i,p5j,p5k}
    \draw[link] (p5.east) -- ++(12,0) |- (\c.west);

  % ---- links 第六篇 ----
  \foreach \c in {p6a,p6b,p6c,p6d,p6e,p6f,p6g,p6h}
    \draw[link] (p6.west) -- ++(-10,0) |- (\c.east);
  \foreach \c in {p6d1,p6d2,p6d3}
    \draw[link] (p6d.west) -- ++(-20,0) |- (\c.east);
  \foreach \c in {p6d2x,p6d2y}
    \draw[link] (p6d2.west) -- ++(-20,0) |- (\c.east);
  \foreach \c in {p6d3x,p6d3y}
    \draw[link] (p6d3.west) -- ++(-18,0) |- (\c.east);
  \foreach \c in {p6e1,p6e2}
    \draw[link] (p6e.west) -- ++(-20,0) |- (\c.east);
  \draw[link] (p6e1.west) -- (p6e1x.east);
  \draw[link] (p6e2.west) -- (p6e2x.east);
  \foreach \c in {p6f1,p6f2,p6f3}
    \draw[link] (p6f.west) -- ++(-19,0) |- (\c.east);
  \foreach \c in {p6f1x,p6f1y,p6f1z}
    \draw[link] (p6f1.west) -- ++(-21,0) |- (\c.east);
  \draw[link] (p6f2.west) -- (p6f2x.east);
  \draw[link] (p6f3.west) -- (p6f3x.east);
  \foreach \c in {p6g1,p6g2}
    \draw[link] (p6g.west) -- ++(-20,0) |- (\c.east);
  \foreach \c in {p6h1,p6h2}
    \draw[link] (p6h.west) -- ++(-18,0) |- (\c.east);
\end{tikzpicture}
\end{document}
